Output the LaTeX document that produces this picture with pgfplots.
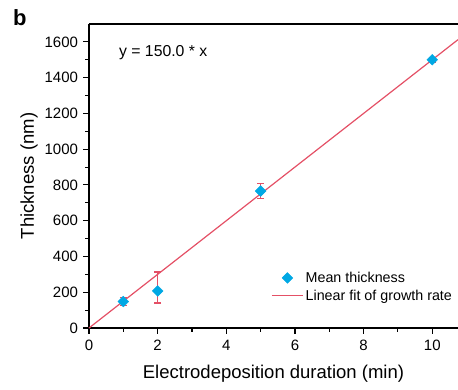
\documentclass[border=0pt]{standalone}
\usepackage{pgfplots}
\pgfplotsset{compat=1.18}
\usepackage{fontspec}
\setmainfont{Liberation Sans}
\definecolor{fitred}{RGB}{228,80,102}
\definecolor{cyanm}{RGB}{0,168,228}
\pgfplotsset{
  legmark/.style={legend image code/.code={\draw[mark repeat=2,mark phase=2,##1] plot coordinates {(0cm,0cm) (0.55cm,0cm) (1.1cm,0cm)};}},
  legline/.style={legend image code/.code={\draw[##1] (0cm,0cm) -- (1.1cm,0cm);}},
}
\begin{document}
\begin{tikzpicture}
\begin{axis}[
  at={(0,0)}, anchor=south west,
  scale only axis, width=369pt, height=304pt,
  xmin=0, xmax=10.75, ymin=0, ymax=1700,
  axis x line*=bottom, axis y line*=left,
  axis line style={line width=1.3pt},
  xtick={0,2,4,6,8,10}, ytick={0,200,...,1600},
  minor x tick num=1, minor y tick num=1,
  tick align=outside,
  major tick length=5.5pt, minor tick length=3.5pt,
  tick style={line width=1.1pt, black},
  /pgf/number format/assume math mode=true,
  /pgf/number format/1000 sep={},
  ticklabel style={font=\fontsize{15}{17}\selectfont},
  xticklabel style={yshift=-3pt},
  yticklabel style={xshift=-2pt},
  xlabel={Electrodeposition duration (min)},
  ylabel={Thickness (nm)},
  label style={font=\fontsize{18.5}{21}\selectfont},
  xlabel style={yshift=-8pt},
  ylabel style={yshift=0pt},
  legend style={at={(0.485,0.198)}, anchor=north west, draw=none, fill=none,
    font=\fontsize{14.3}{17}\selectfont, row sep=2pt},
  legend cell align=left,
  clip=false,
]
\addplot[only marks, mark=square*, mark size=3.8pt, mark options={rotate=45}, color=cyanm,
  legmark,
  error bars/.cd, y dir=both, y explicit,
  error bar style={draw=fitred, line width=1.2pt},
  error mark options={rotate=90, mark size=3.5pt, draw=fitred, line width=1.2pt}]
  coordinates {
  (1,148) +- (0,22)
  (2,207) += (0,106) -= (0,67)
  (5,766) +- (0,40)
  (10,1500) +- (0,12)
};
\addlegendentry{Mean thickness}
\addplot[color=fitred, line width=1.2pt, legline]
  coordinates {(0,0) (10.75,1612.5)};
\addlegendentry{Linear fit of growth rate}
\draw[line width=1.3pt] (rel axis cs:0,1) -- (rel axis cs:1,1);
\node[anchor=west, font=\fontsize{15.8}{18}\selectfont] at (rel axis cs:0.072,0.905) {y = 150.0 * x};
\end{axis}
\node[anchor=north west, inner sep=0pt, font=\fontsize{22}{24}\selectfont\bfseries] at (-76pt,319pt) {b};
\pgfresetboundingbox
\path[use as bounding box] (-89pt,-61pt) rectangle (369pt,328pt);
\end{tikzpicture}
\end{document}
